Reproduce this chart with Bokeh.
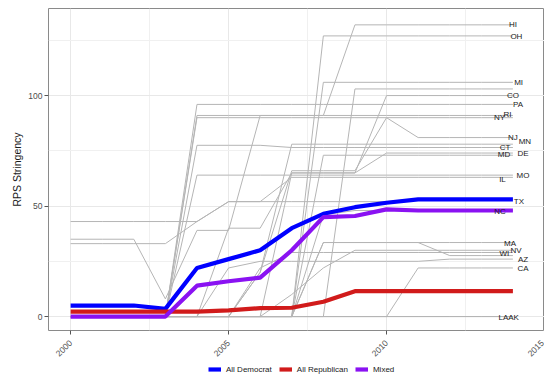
import numpy as np
from bokeh.plotting import figure
from bokeh.layouts import column
from bokeh.models import ColumnDataSource, FixedTicker, Legend, LegendItem, Range1d
from bokeh.core.properties import value
from bokeh.embed import file_html
from bokeh.resources import INLINE

# ---------------- data ----------------
years = list(range(2000, 2015))

# state RPS stringency series (2000..2014)
HI = [35, 35, 35, 8, 39, 39, 91, 91, 91, 132, 132, 132, 132, 132, 132]
OH = [0, 0, 0, 0, 0, 0, 0, 0, 127, 127, 127, 127, 127, 127, 127]
MI = [0, 0, 0, 0, 0, 0, 0, 0, 106, 106, 106, 106, 106, 106, 106]
S103 = [0, 0, 0, 0, 0, 0, 0, 0, 0, 103, 103, 103, 103, 103, 103]
CO = [0, 0, 0, 0, 0, 0, 0, 65, 65, 65, 100, 100, 100, 100, 100]
PA = [0, 0, 0, 0, 96, 96, 96, 96, 96, 96, 96, 96, 96, 96, 96]
NY = [0, 0, 0, 0, 90, 90, 90, 90, 90, 90, 90, 90, 90, 90, 90]
RI = [0, 0, 0, 0, 91, 91, 91, 91, 91, 91, 91, 91, 91, 91, 91]
NJ = [0, 0, 0, 0, 0, 0, 20, 66, 66, 66, 90, 81, 81, 81, 81]
MN = [0, 0, 0, 0, 0, 0, 20, 78, 78, 78, 78, 78, 78, 78, 78]
CT = [0, 0, 0, 0, 77.5, 77.5, 77.5, 76.5, 76.5, 76.5, 76.5, 76.5, 76.5, 76.5, 76.5]
DE = [0, 0, 0, 0, 0, 0, 0, 0, 73, 73, 73, 73, 73, 73, 73]
MD = [0, 0, 0, 0, 0, 40, 40, 65, 65, 65, 74, 74, 74, 74, 74]
MO = [0, 0, 0, 0, 64, 64, 64, 64, 64, 64, 64, 64, 64, 64, 64]
IL = [33, 33, 33, 33, 43, 52, 52, 63, 63, 63, 63, 63, 63, 63, 63]
TX = [43, 43, 43, 43, 43, 52, 52, 52, 52, 52, 52, 53, 53, 53, 53]
NC = [0, 0, 0, 0, 0, 0, 0, 0, 46, 48, 48, 48, 48, 48, 48]
MA = [0, 0, 0, 0, 0, 0, 0, 0, 33.5, 33.5, 33.5, 33.5, 33.5, 33.5, 33.5]
NV = [0, 0, 0, 0, 0, 0, 0, 10, 22, 30, 30, 30, 30, 30, 30]
WI = [0, 0, 0, 0, 0, 0, 0, 0, 33.5, 33.5, 33.5, 33.5, 27.6, 27.6, 27.6]
S29 = [0, 0, 0, 0, 0, 0, 22, 29, 29, 29, 29, 29, 29, 29, 29]
AZ = [0, 0, 0, 0, 0, 22, 25, 25, 25, 25, 25, 25, 26, 26, 26]
CA = [0, 0, 0, 0, 0, 0, 0, 0, 0, 0, 0, 22, 22, 22, 22]
LA = [0] * 15
AK = [0] * 15

state_series = {
    "HI": HI, "OH": OH, "MI": MI, "": S103, "CO": CO, "PA": PA, "NY": NY,
    "RI": RI, "NJ": NJ, "MN": MN, "CT": CT, "DE": DE, "MD": MD, "MO": MO,
    "IL": IL, "TX": TX, "NC": NC, "MA": MA, "NV": NV, "WI": WI, " ": S29,
    "AZ": AZ, "CA": CA, "LA": LA, "AK": AK,
}

# group averages
all_democrat = [5, 5, 5, 3.5, 22, 26, 30, 40, 46.5, 49.5, 51.5, 53, 53, 53, 53]
all_republican = [2.2, 2.2, 2.2, 2.2, 2.2, 2.8, 3.8, 4, 6.7, 11.5, 11.5, 11.5, 11.5, 11.5, 11.5]
mixed = [0, 0, 0, 0, 14, 16, 17.6, 30, 45, 45.5, 48.5, 48, 48, 48, 48]

groups = ["All Democrat", "All Republican", "Mixed"]
group_colors = ["#0000ff", "#d11b1b", "#8a12f2"]

x_ticks = [2000, 2005, 2010, 2015]
y_ticks = [0, 50, 100]

# label placement nudges (years, value) relative to the final point
label_nudge = {
    "HI": (0.0, 0.0), "OH": (0.11, -0.3), "MI": (0.18, 0.0), "CO": (0.0, 0.0),
    "PA": (0.16, 0.0), "NY": (-0.42, 0.0), "RI": (-0.17, 0.4), "NJ": (0.0, 0.0),
    "MN": (0.38, 1.0), "CT": (-0.25, 0.0), "DE": (0.32, 1.0), "MD": (-0.28, -0.7),
    "MO": (0.32, -0.2), "IL": (-0.33, -1.0), "TX": (0.19, -1.0), "NC": (-0.41, -0.5),
    "MA": (-0.09, -0.5), "NV": (0.10, -0.1), "WI": (-0.27, 0.9), "AZ": (0.32, -0.2),
    "CA": (0.32, -0.3), "LA": (-0.3, -0.5), "AK": (0.02, -0.5),
}

# ---------------- main figure ----------------
p = figure(width=544, height=362, output_backend="svg", toolbar_location=None,
           x_range=Range1d(1999.3, 2015.0), y_range=Range1d(-6.3, 139.4),
           min_border_left=48, min_border_right=0, min_border_top=8,
           min_border_bottom=32)
p.background_fill_color = "white"
p.border_fill_color = "white"
p.outline_line_color = "#8a8a8a"
p.outline_line_width = 1

for name, ys in state_series.items():
    p.line(years, ys, line_color="#b5b5b5", line_width=1)

for ys, c in zip([all_democrat, all_republican, mixed], group_colors):
    p.line(years, ys, line_color=c, line_width=4.2)

lx, ly, lt = [], [], []
for name, (dx, dy) in label_nudge.items():
    ys = state_series[name]
    lx.append(years[-1] + dx)
    ly.append(ys[-1] + dy)
    lt.append(name)
src = ColumnDataSource(dict(x=lx, y=ly, text=lt))
p.text(x="x", y="y", text="text", source=src, text_font=value("Liberation Sans"),
       text_font_size="8px", text_align="center", text_baseline="middle",
       text_color="#1a1a1a")

# axes
p.xaxis.ticker = FixedTicker(ticks=x_ticks, minor_ticks=[2002.5, 2007.5, 2012.5])
p.yaxis.ticker = FixedTicker(ticks=y_ticks, minor_ticks=[25, 75, 125])
for ax in (p.xaxis, p.yaxis):
    ax.axis_line_color = None
    ax.major_tick_line_color = "#555555"
    ax.major_tick_out = 4
    ax.major_tick_in = 0
    ax.minor_tick_out = 0
    ax.minor_tick_in = 0
    ax.major_label_text_font = "Liberation Sans"
    ax.major_label_text_font_size = "8.5px"
    ax.major_label_text_color = "#4d4d4d"
    ax.major_label_standoff = 2
p.xaxis.major_label_orientation = np.pi / 4
p.xaxis.major_label_standoff = 7
p.yaxis.axis_label = "RPS Stringency"
p.yaxis.axis_label_text_font = "Liberation Sans"
p.yaxis.axis_label_text_font_size = "10.5px"
p.yaxis.axis_label_text_font_style = "normal"
p.yaxis.axis_label_text_color = "#1a1a1a"
p.yaxis.axis_label_standoff = 2

for g in (p.xgrid, p.ygrid):
    g.grid_line_color = "#e8e8e8"
    g.grid_line_width = 1
    g.minor_grid_line_color = "#f0f0f0"
    g.minor_grid_line_width = 1

# ---------------- legend strip ----------------
lg = figure(width=544, height=14, output_backend="svg", toolbar_location=None,
            x_range=Range1d(0, 1), y_range=Range1d(0, 1),
            min_border_left=0, min_border_right=0, min_border_top=0,
            min_border_bottom=0)
lg.axis.visible = False
lg.grid.visible = False
lg.outline_line_color = None
lg.background_fill_color = "white"
lg.border_fill_color = "white"
items = []
for name, c in zip(groups, group_colors):
    r = lg.line([2, 3], [5, 5], line_color=c, line_width=4.2)
    items.append(LegendItem(label=name, renderers=[r]))
legend = Legend(items=items, orientation="horizontal", location=(160, 1),
                glyph_width=13, glyph_height=12, label_height=12,
                label_standoff=5, spacing=7, padding=0, margin=0,
                border_line_alpha=0, background_fill_alpha=0,
                label_text_font="Liberation Sans", label_text_font_size="8px",
                label_text_color="#1a1a1a")
lg.add_layout(legend, "center")

layout = column(p, lg, spacing=0)
open("out.html", "w").write(file_html(layout, INLINE))
